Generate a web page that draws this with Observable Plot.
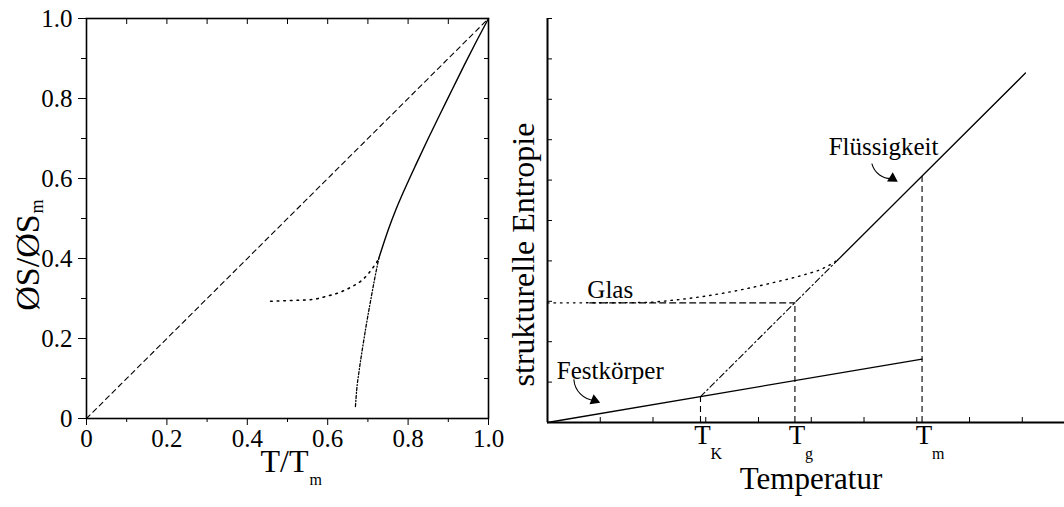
<!DOCTYPE html>
<html>
<head>
<meta charset="utf-8">
<script src="https://cdn.jsdelivr.net/npm/d3@7"></script>
<script src="https://cdn.jsdelivr.net/npm/@observablehq/plot@0.6"></script>
<style>
  body { margin: 0; background: #fff; }
  #fig { position: relative; width: 1064px; height: 507px; overflow: hidden; }
  #fig svg { position: absolute; top: 0; }
  #fig svg, #fig svg text { font-family: "Liberation Serif", "Times New Roman", serif !important; }
</style>
</head>
<body>
<div id="fig"></div>
<script>
// ---------- Left panel: reduced entropy difference vs. reduced temperature ----------
const diagT = [0, 1];
const diagS = [0, 1];

// equilibrium liquid (solid line)
const liquidT = [0.727, 0.75, 0.77, 0.79, 0.82, 0.85, 0.88, 0.91, 0.94, 0.97, 1.0];
const liquidS = [0.40, 0.47, 0.523, 0.57, 0.636, 0.70, 0.762, 0.823, 0.884, 0.943, 1.0];

// extrapolated supercooled liquid (dash-dot)
const extrapT = [0.669, 0.672, 0.678, 0.686, 0.695, 0.705, 0.716, 0.727];
const extrapS = [0.03, 0.07, 0.118, 0.172, 0.228, 0.285, 0.345, 0.40];

// glass (dotted)
const glassT = [0.458, 0.507, 0.557, 0.599, 0.632, 0.657, 0.682, 0.702, 0.726];
const glassS = [0.293, 0.295, 0.297, 0.306, 0.316, 0.328, 0.343, 0.363, 0.397];

const majorTicks = [0, 0.2, 0.4, 0.6, 0.8, 1.0];
const minorTicks = [0.1, 0.3, 0.5, 0.7, 0.9];
const allTicks = [0.1, 0.2, 0.3, 0.4, 0.5, 0.6, 0.7, 0.8, 0.9];

// ---------- Right panel: structural entropy vs. temperature (schematic) ----------
const tK = 2.9, tG = 4.69, tM = 7.1;

const crystalT = [0, 7.1];
const crystalS = [0, 1.57];

const meltT = [5.5, 9.06];
const meltS = [4.02, 8.65];

const supercooledT = [2.9, 5.5];
const supercooledS = [0.64, 4.02];

const glassLineT = [0, 1.8, 2.4, 3.0, 3.65, 4.3, 4.9, 5.2, 5.5];
const glassLineS = [2.96, 2.97, 3.03, 3.13, 3.28, 3.47, 3.67, 3.8, 4.02];

// dashed guide lines: vertical drops at T_K, T_g, T_m and the glass level
const dropT = [tK, tG, tM];
const dropS = [0.64, 2.96, 6.095];
const glassLevelT = [0.8, tG];
const glassLevelS = 2.96;

const tempNames = ["T", "T", "T"];
const tempSubs = ["K", "g", "m"];

const phaseNames = ["Glas", "Festkörper", "Flüssigkeit"];
const phaseT = [1.19, 1.19, 6.37];
const phaseS = [3.28, 1.27, 6.83];

// curved pointers from the phase names to the lines
const pointerFromT = [0.50, 6.15];
const pointerFromS = [1.06, 6.40];
const pointerToT = [0.89, 6.54];
const pointerToS = [0.545, 6.04];
const pointerAngle = [112, 122];

const rightTicksX = [1, 2, 3, 4, 5, 6, 7, 8, 9];
const rightTicksY = [1, 2, 3, 4, 5, 6, 7, 8, 9, 10];

// ---------- helpers ----------
const pts = (xs, ys) => xs.map((x, i) => ({x, y: Array.isArray(ys) ? ys[i] : ys}));
const serif = "Liberation Serif";
const fmt = d => d === 0 ? "0" : d.toFixed(1);

const left = Plot.plot({
  width: 520, height: 507,
  marginLeft: 86, marginRight: 32, marginTop: 18, marginBottom: 89,
  x: {domain: [0, 1]},
  y: {domain: [0, 1]},
  style: {fontFamily: serif, fontSize: "25px", color: "black", background: "transparent", overflow: "visible"},
  marks: [
    Plot.frame({strokeWidth: 1.6}),
    Plot.axisX(majorTicks, {anchor: "bottom", tickSize: 7, tickPadding: 4, tickFormat: fmt, label: null, fontFamily: serif}),
    Plot.axisX(minorTicks, {anchor: "bottom", tickSize: 4, fill: "none", label: null}),
    Plot.axisX(allTicks, {anchor: "top", tickSize: -5, fill: "none", label: null}),
    Plot.axisY(majorTicks, {anchor: "left", tickSize: 8, tickPadding: 6, tickFormat: fmt, label: null, fontFamily: serif}),
    Plot.axisY(minorTicks, {anchor: "left", tickSize: 5, fill: "none", label: null}),
    Plot.axisY(allTicks, {anchor: "right", tickSize: -5, fill: "none", label: null}),
    Plot.line(pts(diagT, diagS), {x: "x", y: "y", strokeDasharray: "5,4", strokeWidth: 1.1}),
    Plot.line(pts(liquidT, liquidS), {x: "x", y: "y", curve: "monotone-x", strokeWidth: 1.4}),
    Plot.line(pts(extrapT, extrapS), {x: "x", y: "y", curve: "monotone-x", strokeDasharray: "3,2,1,2", strokeWidth: 1.3}),
    Plot.line(pts(glassT, glassS), {x: "x", y: "y", curve: "monotone-x", strokeDasharray: "1.6,5", strokeWidth: 1.6}),
    Plot.text(["T/T"], {text: d => d, frameAnchor: "bottom", dx: -3, dy: 53, fontSize: 32, fontFamily: serif}),
    Plot.text(["m"], {text: d => d, frameAnchor: "bottom", textAnchor: "start", dx: 22, dy: 66, fontSize: 16, fontFamily: serif}),
    Plot.text(["ØS/ØS"], {text: d => d, frameAnchor: "left", textAnchor: "middle", rotate: -90, dx: -58, dy: 44, fontSize: 34, fontFamily: serif}),
    Plot.text(["m"], {text: d => d, frameAnchor: "left", textAnchor: "start", rotate: -90, dx: -49, dy: -5, fontSize: 18, fontFamily: serif})
  ]
});

const right = Plot.plot({
  width: 574, height: 507,
  marginLeft: 57, marginRight: 0, marginTop: 18, marginBottom: 85,
  x: {domain: [0, 9.8]},
  y: {domain: [0, 10]},
  style: {fontFamily: serif, fontSize: "25px", color: "black", background: "transparent", overflow: "visible"},
  marks: [
    Plot.ruleX([0], {strokeWidth: 2}),
    Plot.ruleY([0], {strokeWidth: 2}),
    Plot.axisX(rightTicksX, {anchor: "bottom", tickSize: -5, fill: "none", label: null}),
    Plot.axisY(rightTicksY, {anchor: "left", tickSize: -5, fill: "none", label: null}),
    // guides
    Plot.ruleX(pts(dropT, dropS), {x: "x", y1: 0, y2: "y", strokeDasharray: "6,4", strokeWidth: 1.1}),
    Plot.line(pts(glassLevelT, glassLevelS), {x: "x", y: "y", strokeDasharray: "6,4", strokeWidth: 1.1}),
    // phases
    Plot.line(pts(crystalT, crystalS), {x: "x", y: "y", strokeWidth: 1.3}),
    Plot.line(pts(meltT, meltS), {x: "x", y: "y", strokeWidth: 1.3}),
    Plot.line(pts(supercooledT, supercooledS), {x: "x", y: "y", strokeDasharray: "6,3,1.5,3", strokeWidth: 1.1}),
    Plot.line(pts(glassLineT, glassLineS), {x: "x", y: "y", curve: "monotone-x", strokeDasharray: "1.5,5", strokeWidth: 1.4}),
    // labels
    Plot.text(phaseNames, {x: (d, i) => phaseT[i], y: (d, i) => phaseS[i], text: d => d, fontSize: 25, fontFamily: serif}),
    Plot.arrow(pointerFromT.map((t, i) => i), {
      x1: i => pointerFromT[i], y1: i => pointerFromS[i],
      x2: i => pointerToT[i], y2: i => pointerToS[i],
      bend: -40, headLength: 0, strokeWidth: 1.1
    }),
    Plot.dot(pointerToT.map((t, i) => i), {
      x: i => pointerToT[i], y: i => pointerToS[i], symbol: "triangle", r: 4,
      fill: "black", stroke: "none", rotate: i => pointerAngle[i]
    }),
    Plot.text(tempNames, {x: (d, i) => dropT[i], text: d => d, frameAnchor: "bottom", dx: 2, dy: 21, fontSize: 27, fontFamily: serif}),
    Plot.text(tempSubs, {x: (d, i) => dropT[i], text: d => d, frameAnchor: "bottom", textAnchor: "start", dx: 10, dy: 36, fontSize: 16, fontFamily: serif}),
    Plot.text(["Temperatur"], {text: d => d, frameAnchor: "bottom", dx: 5, dy: 66, fontSize: 31, fontFamily: serif}),
    Plot.text(["strukturelle Entropie"], {text: d => d, frameAnchor: "left", textAnchor: "middle", rotate: -90, dx: -24, dy: 34, fontSize: 32, fontFamily: serif})
  ]
});

const fig = document.getElementById("fig");
left.style.left = "0px";
right.style.left = "490px";
fig.appendChild(left);
fig.appendChild(right);
</script>
</body>
</html>
